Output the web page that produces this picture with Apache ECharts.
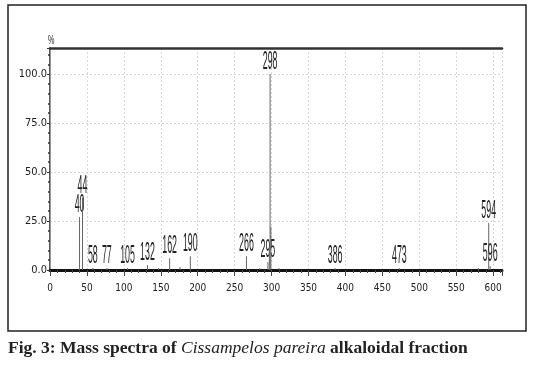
<!DOCTYPE html>
<html>
<head>
<meta charset="utf-8">
<script src="https://cdn.jsdelivr.net/npm/echarts@6/dist/echarts.min.js"></script>
<style>
html,body{margin:0;padding:0;background:#fff;}
#main{width:538px;height:370px;}
</style>
</head>
<body>
<div id="main"></div>
<script>
// m/z values of the peaks
var mz = [40, 44, 58, 77, 105, 132, 147, 162, 176, 190, 266, 284, 295, 297, 298, 299, 310, 386, 473, 580, 594, 596];
// relative intensity (%)
var intensity = [27, 37, 1, 1, 1, 2.5, 1, 6, 1.5, 7, 7, 1, 4, 12, 100, 22, 1, 1, 1, 1, 24, 2];
// peak labels ('' = unlabeled)
var peakLabels = ['40', '44', '58', '77', '105', '132', '', '162', '', '190', '266', '', '295', '', '298', '', '', '386', '473', '', '594', '596'];
var yTicks = [0, 25, 50, 75, 100];
var caption = 'Fig. 3: Mass spectra of ';
var captionItalic = 'Cissampelos pareira';
var captionEnd = ' alkaloidal fraction';

var narrow = '"Liberation Sans Narrow", "DejaVu Sans Condensed", sans-serif';
var chart = echarts.init(document.getElementById('main'));
var data = mz.map(function (m, i) { return [m, intensity[i]]; });

chart.setOption({
  animation: false,
  backgroundColor: '#fff',
  grid: { left: 50, right: 36, top: 48, bottom: 100 },
  xAxis: [{
    type: 'value', min: 0, max: 612, interval: 50,
    axisLine: { show: true, lineStyle: { color: '#111', width: 3 } },
    axisTick: { show: true, length: 6, lineStyle: { color: '#444' } },
    minorTick: { show: true, splitNumber: 5, length: 3, lineStyle: { color: '#444' } },
    axisLabel: { showMaxLabel: false, margin: 13, fontFamily: narrow, fontSize: 10, color: '#222' },
    splitLine: { show: true, lineStyle: { color: '#d8d8d8', type: [2, 2] } }
  }, {
    type: 'value', min: 0, max: 612, position: 'top',
    axisLine: { show: true, onZero: false, lineStyle: { color: '#333', width: 2.5 } },
    axisTick: { show: false }, axisLabel: { show: false }, splitLine: { show: false }
  }],
  yAxis: [{
    type: 'value', min: 0, max: 113.3, interval: 25,
    axisLine: { show: true, lineStyle: { color: '#222', width: 1.5 } },
    axisTick: { show: true, length: 3, lineStyle: { color: '#333' } },
    minorTick: { show: true, splitNumber: 5, length: 2, lineStyle: { color: '#333', width: 1.5 } },
    axisLabel: {
      showMaxLabel: false, margin: 3, fontFamily: narrow, fontSize: 11, color: '#222',
      formatter: function (v) { return yTicks.indexOf(v) >= 0 ? v.toFixed(1) : ''; }
    },
    splitLine: { show: true, lineStyle: { color: '#d8d8d8', type: [2, 2] } }
  }, {
    type: 'value', min: 0, max: 113.3, position: 'right',
    axisLine: { show: true, lineStyle: { color: '#999', width: 1 } },
    axisTick: { show: false }, axisLabel: { show: false }, splitLine: { show: false }
  }],
  series: [{
    type: 'custom',
    xAxisIndex: 0, yAxisIndex: 0,
    data: data,
    renderItem: function (params, api) {
      var x = api.value(0), y = api.value(1);
      var lab = peakLabels[params.dataIndex];
      var p0 = api.coord([x, 0]);
      var p1 = api.coord([x, y]);
      var children = [{
        type: 'line',
        shape: { x1: p0[0], y1: p0[1], x2: p1[0], y2: p1[1] },
        style: { stroke: '#666', lineWidth: 1 }
      }];
      if (lab) {
        children.push({
          type: 'text', x: p1[0], y: p1[1] + 1, scaleX: 0.34,
          style: { text: lab, fontSize: 26, fontFamily: '"Liberation Sans", sans-serif', fill: '#222', align: 'center', verticalAlign: 'bottom' }
        });
      }
      return { type: 'group', children: children };
    },
    z: 5
  }],
  graphic: [{
    type: 'rect', shape: { x: 8, y: 5, width: 518, height: 326 },
    style: { fill: 'none', stroke: '#222', lineWidth: 1.5 }, z: -1
  }, {
    type: 'text', x: 48, y: 35, scaleX: 0.6,
    style: { text: '%', fontSize: 12, fontFamily: '"Liberation Sans", sans-serif', fill: '#222' }
  }, {
    type: 'text', x: 8, y: 339,
    style: {
      text: '{b|' + caption + '}{i|' + captionItalic + '}{b|' + captionEnd + '}',
      rich: {
        b: { fontFamily: '"Liberation Serif", serif', fontWeight: 'bold', fontSize: 17.5, fill: '#222' },
        i: { fontFamily: '"Liberation Serif", serif', fontStyle: 'italic', fontSize: 17.5, fill: '#222' }
      }
    }
  }]
});
</script>
</body>
</html>
